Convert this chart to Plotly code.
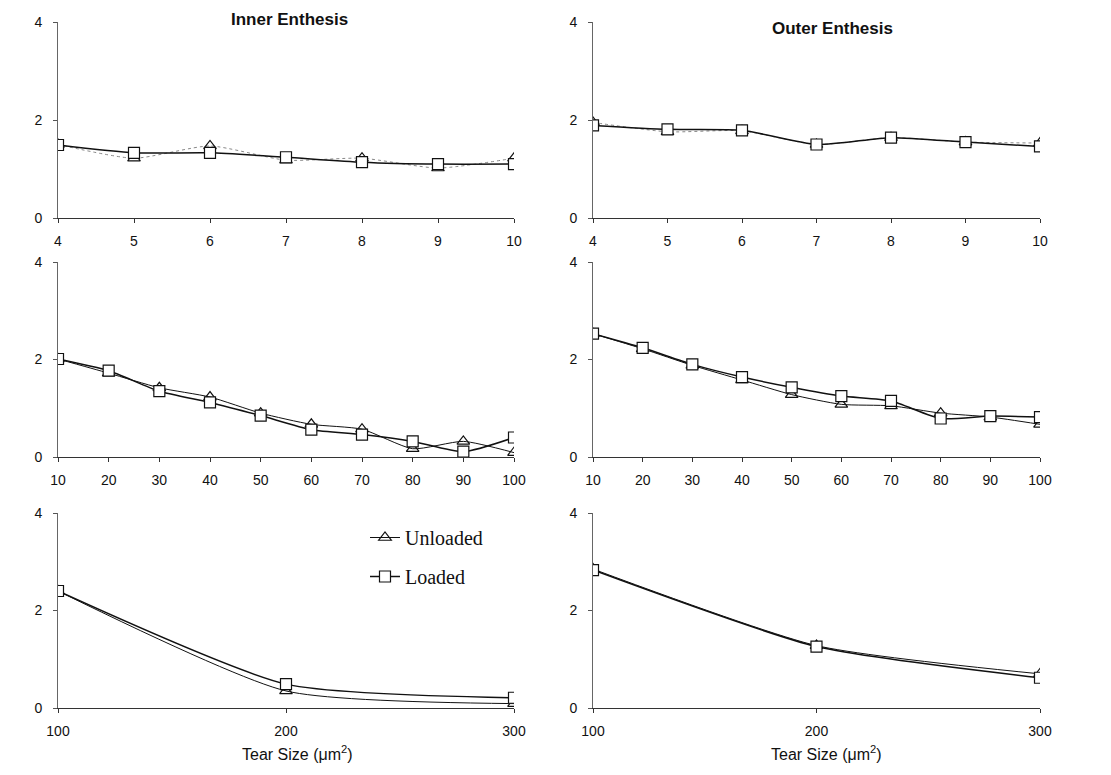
import plotly.graph_objects as go

# ---------------- data ----------------
small_x = [4, 5, 6, 7, 8, 9, 10]
inner_small_unloaded = [1.50, 1.22, 1.47, 1.18, 1.22, 1.02, 1.22]
inner_small_loaded = [1.49, 1.33, 1.33, 1.24, 1.14, 1.10, 1.10]
outer_small_unloaded = [1.95, 1.76, 1.78, 1.50, 1.64, 1.55, 1.53]
outer_small_loaded = [1.89, 1.81, 1.79, 1.50, 1.64, 1.55, 1.46]

mid_x = [10, 20, 30, 40, 50, 60, 70, 80, 90, 100]
inner_mid_unloaded = [2.01, 1.72, 1.42, 1.23, 0.90, 0.67, 0.57, 0.17, 0.32, 0.09]
inner_mid_loaded = [2.01, 1.77, 1.35, 1.12, 0.85, 0.56, 0.46, 0.32, 0.11, 0.40]
outer_mid_unloaded = [2.53, 2.22, 1.88, 1.58, 1.28, 1.08, 1.05, 0.90, 0.82, 0.67]
outer_mid_loaded = [2.53, 2.24, 1.90, 1.64, 1.43, 1.25, 1.15, 0.79, 0.84, 0.82]

large_x = [100, 200, 300]
inner_large_unloaded = [2.40, 0.35, 0.09]
inner_large_loaded = [2.40, 0.49, 0.21]
outer_large_unloaded = [2.85, 1.28, 0.70]
outer_large_loaded = [2.83, 1.26, 0.62]

y_ticks = [0, 2, 4]
small_ticks = [4, 5, 6, 7, 8, 9, 10]
mid_ticks = [10, 20, 30, 40, 50, 60, 70, 80, 90, 100]
large_ticks = [100, 200, 300]

titles = ["Inner Enthesis", "Outer Enthesis"]
series_names = ["Unloaded", "Loaded"]
x_title = "Tear Size (μm<sup>2</sup>)"

# ---------------- layout helpers ----------------
W, H = 1111, 775
def xd(l, r):
    return [l / W, r / W]
def yd(top, bottom):
    return [(H - bottom) / H, (H - top) / H]

col_dom = [xd(58, 514), xd(593, 1040)]
row_dom = [yd(22, 218), yd(262, 457), yd(513, 708)]

panels = [
    (0, 0, small_x, inner_small_unloaded, inner_small_loaded, small_ticks),
    (0, 1, small_x, outer_small_unloaded, outer_small_loaded, small_ticks),
    (1, 0, mid_x, inner_mid_unloaded, inner_mid_loaded, mid_ticks),
    (1, 1, mid_x, outer_mid_unloaded, outer_mid_loaded, mid_ticks),
    (2, 0, large_x, inner_large_unloaded, inner_large_loaded, large_ticks),
    (2, 1, large_x, outer_large_unloaded, outer_large_loaded, large_ticks),
]

fig = go.Figure()
tick_font = dict(family="Liberation Sans, Arial", size=14, color="#111")

for i, (r, c, xs, unl, lod, xt) in enumerate(panels):
    n = i + 1
    xa = "x" if n == 1 else f"x{n}"
    ya = "y" if n == 1 else f"y{n}"
    if r == 0:
        ul = dict(color="#888", width=1, dash="dot", shape="spline", smoothing=0.6)
    else:
        ul = dict(color="#111", width=1, shape="spline", smoothing=0.6)
    fig.add_trace(go.Scatter(
        x=xs, y=unl, mode="lines+markers", name=series_names[0],
        line=ul, legendgroup="u", showlegend=(n == 5),
        marker=dict(symbol="triangle-up-open", size=11, color="#111",
                    line=dict(width=1.2)),
        xaxis=xa, yaxis=ya))
    fig.add_trace(go.Scatter(
        x=xs, y=lod, mode="lines+markers", name=series_names[1],
        line=dict(color="#111", width=1.5, shape="spline", smoothing=0.6),
        legendgroup="l", showlegend=(n == 5),
        marker=dict(symbol="square", size=11, color="white",
                    line=dict(width=1.2, color="#111")),
        xaxis=xa, yaxis=ya))

    xkey = "xaxis" if n == 1 else f"xaxis{n}"
    ykey = "yaxis" if n == 1 else f"yaxis{n}"
    fig.layout[xkey] = dict(
        domain=col_dom[c], anchor=ya, range=[xs[0], xs[-1]],
        tickvals=xt, ticks="outside", ticklen=4, tickcolor="#333",
        showline=True, linecolor="#333", linewidth=1.2,
        showgrid=False, zeroline=False, tickfont=tick_font,
        ticklabelstandoff=6, automargin=False)
    fig.layout[ykey] = dict(
        domain=row_dom[r], anchor=xa, range=[0, 4],
        tickvals=y_ticks, ticks="outside", ticklen=4, tickcolor="#555",
        showline=True, linecolor="#666", linewidth=1,
        showgrid=False, zeroline=False, tickfont=tick_font,
        ticklabelstandoff=8, automargin=False)

title_font = dict(family="Liberation Sans, Arial", size=17, color="#111")
label_font = dict(family="Liberation Sans, Arial", size=16, color="#111")
annotations = [
    dict(text="<b>" + titles[0] + "</b>", x=289 / W, y=1 - 20 / H,
         xref="paper", yref="paper", showarrow=False,
         xanchor="center", yanchor="middle", font=title_font),
    dict(text="<b>" + titles[1] + "</b>", x=832 / W, y=1 - 28 / H,
         xref="paper", yref="paper", showarrow=False,
         xanchor="center", yanchor="middle", font=title_font),
    dict(text=x_title, x=297 / W, y=1 - 753 / H,
         xref="paper", yref="paper", showarrow=False,
         xanchor="center", yanchor="middle", font=label_font),
    dict(text=x_title, x=827 / W, y=1 - 753 / H,
         xref="paper", yref="paper", showarrow=False,
         xanchor="center", yanchor="middle", font=label_font),
]

fig.update_layout(
    width=W, height=H, margin=dict(l=0, r=0, t=0, b=0, autoexpand=False),
    paper_bgcolor="white", plot_bgcolor="white",
    annotations=annotations,
    legend=dict(x=365 / W, y=1 - 518 / H, xanchor="left", yanchor="top",
                font=dict(family="Liberation Serif, Times New Roman", size=20, color="#111"),
                bgcolor="rgba(0,0,0,0)", traceorder="grouped", tracegroupgap=10,
                itemwidth=30),
)

fig.write_html("out.html")
